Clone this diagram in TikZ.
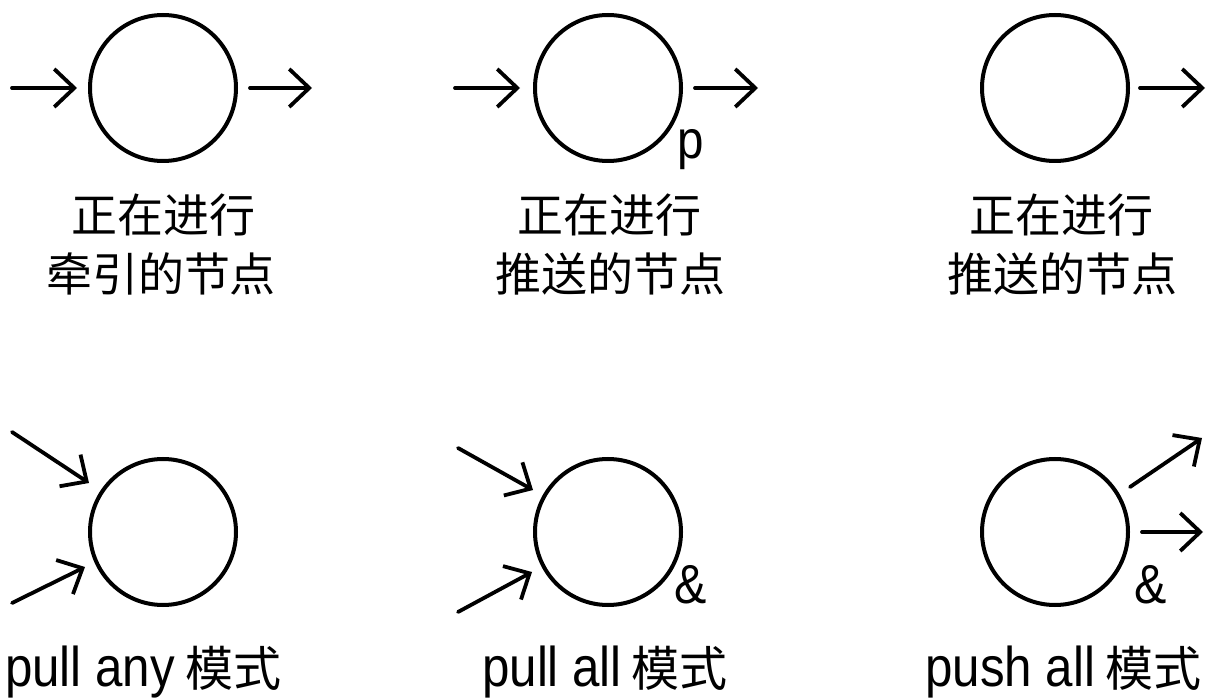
\documentclass[tikz,border=0pt]{standalone}
\usepackage{fontspec}
\usetikzlibrary{arrows.meta}
\newfontfamily\cjk{Noto Sans CJK SC}
\newfontfamily\lat[FakeStretch=0.88]{Liberation Sans}
\tikzset{
  nodecirc/.style={circle, draw, line width=4pt, minimum size=146pt, inner sep=0pt},
  conn/.style={line width=3.8pt, line cap=round, line join=round, -{Straight Barb[length=20pt,width=38pt]}},
  toplabel/.style={anchor=base, inner sep=0pt, font=\cjk\fontsize{46}{50}\selectfont},
  botlabel/.style={anchor=base west, inner sep=0pt, font=\lat\fontsize{56}{64}\selectfont},
  marklabel/.style={anchor=base, inner sep=0pt, font=\lat\fontsize{54}{60}\selectfont},
  amplabel/.style={anchor=base, inner sep=0pt, font=\lat\fontsize{55}{60}\selectfont}
}
\newcommand{\zhmode}[1]{{\cjk\fontsize{48}{52}\selectfont #1}}
\begin{document}
\begin{tikzpicture}[x=1pt,y=-1pt]
\useasboundingbox (0,0) rectangle (1219,700);
% top row
\node[nodecirc] (c1) at (163,88) {};
\node[nodecirc] (c2) at (608,88) {};
\node[nodecirc] (c3) at (1055,88) {};
\coordinate (a1s) at (12,88);   \coordinate (a1e) at (77,88);
\coordinate (b1s) at (250,88);  \coordinate (b1e) at (312,88);
\coordinate (a2s) at (455,88);  \coordinate (a2e) at (520,88);
\coordinate (b2s) at (695,88);  \coordinate (b2e) at (758,88);
\coordinate (b3s) at (1140,88); \coordinate (b3e) at (1205,88);
\draw[conn] (a1s) -- (a1e);
\draw[conn] (b1s) -- (b1e);
\draw[conn] (a2s) -- (a2e);
\draw[conn] (b2s) -- (b2e);
\draw[conn] (b3s) -- (b3e);
\node[marklabel] (p2) at (691,159) {p};
\node[toplabel] (t1a) at (163,233) {正在进行};
\node[toplabel] (t1b) at (161,292) {牵引的节点};
\node[toplabel] (t2a) at (609,233) {正在进行};
\node[toplabel] (t2b) at (610,292) {推送的节点};
\node[toplabel] (t3a) at (1061,233) {正在进行};
\node[toplabel] (t3b) at (1062,292) {推送的节点};
% bottom row
\node[nodecirc] (d1) at (163,532) {};
\node[nodecirc] (d2) at (608,532) {};
\node[nodecirc] (d3) at (1055,532) {};
\coordinate (e1s) at (12,432);   \coordinate (e1e) at (89,483);
\coordinate (f1s) at (12,603);   \coordinate (f1e) at (85,567);
\coordinate (e2s) at (458,448);  \coordinate (e2e) at (533,490);
\coordinate (f2s) at (458,612);  \coordinate (f2e) at (532,572);
\coordinate (g3s) at (1130,487); \coordinate (g3e) at (1202,438);
\coordinate (h3s) at (1142,532); \coordinate (h3e) at (1203,532);
\draw[conn] (e1s) -- (e1e);
\draw[conn] (f1s) -- (f1e);
\draw[conn] (e2s) -- (e2e);
\draw[conn] (f2s) -- (f2e);
\draw[conn] (g3s) -- (g3e);
\draw[conn] (h3s) -- (h3e);
\node[amplabel] (amp2) at (691,603) {\&};
\node[amplabel] (amp3) at (1151,603) {\&};
\node[botlabel] (l1) at (5,686) {pull any\hspace{10pt}\zhmode{模式}};
\node[botlabel] (l2) at (482,686) {pull all\hspace{10pt}\zhmode{模式}};
\node[botlabel] (l3) at (925,686) {push all\hspace{10pt}\zhmode{模式}};
\end{tikzpicture}
\end{document}
